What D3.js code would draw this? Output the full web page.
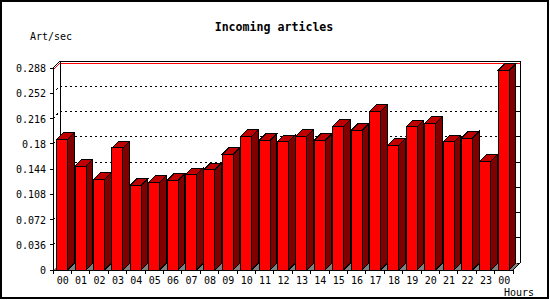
<!DOCTYPE html>
<html>
<head>
<meta charset="utf-8">
<script src="https://cdn.jsdelivr.net/npm/d3@7"></script>
<style>
  body { margin: 0; background: #fff; }
  text { font-family: "DejaVu Sans Mono", "Liberation Mono", monospace; fill: #000; }
</style>
</head>
<body>
<svg id="root"></svg>
<script>
// chart data
const hours = ["00","01","02","03","04","05","06","07","08","09","10","11",
               "12","13","14","15","16","17","18","19","20","21","22","23","00"]
const artPerSec = [0.186, 0.148, 0.129, 0.174, 0.121, 0.125, 0.128, 0.136, 0.143, 0.165, 0.191, 0.185,
                   0.183, 0.191, 0.185, 0.205, 0.199, 0.226, 0.178, 0.204, 0.209, 0.183, 0.188, 0.155, 0.285]
const yTickValues = [0, 0.036, 0.072, 0.108, 0.144, 0.18, 0.216, 0.252, 0.288]
const yTickLabels = ["0", "0.036", "0.072", "0.108", "0.144", "0.18", "0.216", "0.252", "0.288"]

const width = 550, height = 300
const svg = d3.select("#root").attr("width", width).attr("height", height)

// outer frame
svg.append("rect")
  .attr("x", 1).attr("y", 1).attr("width", width - 3).attr("height", height - 3)
  .attr("fill", "#fff").attr("stroke", "#000").attr("stroke-width", 2)

// plot geometry (front plane), depth offset for the back wall
const left = 53, right = 513, bottom = 270
const depth = 7, barDepth = 6.6

const y = d3.scaleLinear([0, 0.288], [bottom, 68])
const x = d3.scaleBand(d3.range(hours.length), [left, right])
const barW = 11, barOff = 3.7

const g = svg.append("g").attr("shape-rendering", "crispEdges")

// back wall
g.append("rect")
  .attr("x", left + depth).attr("y", y(0.288) - depth)
  .attr("width", right - left).attr("height", bottom - y(0.288))
  .attr("fill", "#fff")

// dotted grid lines on the back wall
const gridVals = yTickValues.filter(v => v > 0 && v < 0.288)
g.selectAll(".grid").data(gridVals).join("path")
  .attr("class", "grid")
  .attr("d", v => `M${left},${y(v)}L${left + depth},${y(v) - depth}L${right + depth},${y(v) - depth}`)
  .attr("fill", "none").attr("stroke", "#000").attr("stroke-dasharray", "2,3")

// max line
const maxVal = d3.max(artPerSec)
g.append("path")
  .attr("d", `M${left},${y(maxVal)}L${left + depth},${y(maxVal) - depth}L${right + depth},${y(maxVal) - depth}`)
  .attr("fill", "none").attr("stroke", "#ff0000")

// floor
g.append("path")
  .attr("d", `M${left},${bottom}L${left + depth},${bottom - depth}L${right + depth},${bottom - depth}L${right},${bottom}Z`)
  .attr("fill", "#808080").attr("stroke", "none")

// right wall ticks
g.selectAll(".rtick").data(yTickValues).join("line")
  .attr("class", "rtick")
  .attr("x1", right + depth - 3).attr("x2", right + depth)
  .attr("y1", v => y(v) - depth).attr("y2", v => y(v) - depth)
  .attr("stroke", "#000")

// back wall edges
g.append("path")
  .attr("d", `M${left + depth},${bottom - depth}L${left + depth},${y(0.288) - depth}L${right + depth},${y(0.288) - depth}L${right + depth},${bottom - depth}`)
  .attr("fill", "none").attr("stroke", "#000")

// bars
const bars = g.selectAll(".bar").data(artPerSec).join("g").attr("class", "bar")
bars.append("path")  // side
  .attr("d", (d, i) => {
    const x1 = x(i) + barOff + barW
    return `M${x1},${y(d)}L${x1 + barDepth},${y(d) - barDepth}L${x1 + barDepth},${bottom - barDepth}L${x1},${bottom}Z`
  })
  .attr("fill", "#800000").attr("stroke", "#000")
bars.append("path")  // top
  .attr("d", (d, i) => {
    const x0 = x(i) + barOff
    return `M${x0},${y(d)}L${x0 + barDepth},${y(d) - barDepth}L${x0 + barW + barDepth},${y(d) - barDepth}L${x0 + barW},${y(d)}Z`
  })
  .attr("fill", "#c00000").attr("stroke", "#000")
bars.append("rect")  // front
  .attr("x", (d, i) => x(i) + barOff).attr("y", d => y(d))
  .attr("width", barW).attr("height", d => bottom - y(d))
  .attr("fill", "#ff0000").attr("stroke", "#000")

// front axes
g.append("path")
  .attr("d", `M${left + depth},${y(0.288) - depth}L${left},${y(0.288)}L${left},${bottom}L${right},${bottom}L${right + depth},${bottom - depth}`)
  .attr("fill", "none").attr("stroke", "#000")

// y ticks + labels
g.selectAll(".ytick").data(yTickValues).join("line")
  .attr("class", "ytick")
  .attr("x1", left - 3).attr("x2", left)
  .attr("y1", v => y(v)).attr("y2", v => y(v))
  .attr("stroke", "#000")
svg.selectAll(".ylab").data(yTickValues).join("text")
  .attr("class", "ylab")
  .attr("x", 46).attr("y", v => y(v) + 4)
  .attr("text-anchor", "end").attr("font-size", "10px")
  .text((v, i) => yTickLabels[i])

// x ticks + labels
const xTicks = d3.range(hours.length + 1).map(i => left + i * x.bandwidth())
g.selectAll(".xtick").data(xTicks).join("line")
  .attr("class", "xtick")
  .attr("x1", d => d).attr("x2", d => d)
  .attr("y1", bottom).attr("y2", bottom + 4)
  .attr("stroke", "#000")
svg.selectAll(".xlab").data(hours).join("text")
  .attr("class", "xlab")
  .attr("x", (d, i) => x(i) + x.bandwidth() / 2 + 0.5).attr("y", 284)
  .attr("text-anchor", "middle").attr("font-size", "10px")
  .text(d => d)

// titles
svg.append("text")
  .attr("x", 274).attr("y", 31)
  .attr("text-anchor", "middle").attr("font-size", "11.6px").attr("font-weight", "bold")
  .text("Incoming articles")
svg.append("text")
  .attr("x", 30).attr("y", 40)
  .attr("font-size", "10px")
  .text("Art/sec")
svg.append("text")
  .attr("x", 534).attr("y", 296)
  .attr("text-anchor", "end").attr("font-size", "10px")
  .text("Hours")
</script>
</body>
</html>
